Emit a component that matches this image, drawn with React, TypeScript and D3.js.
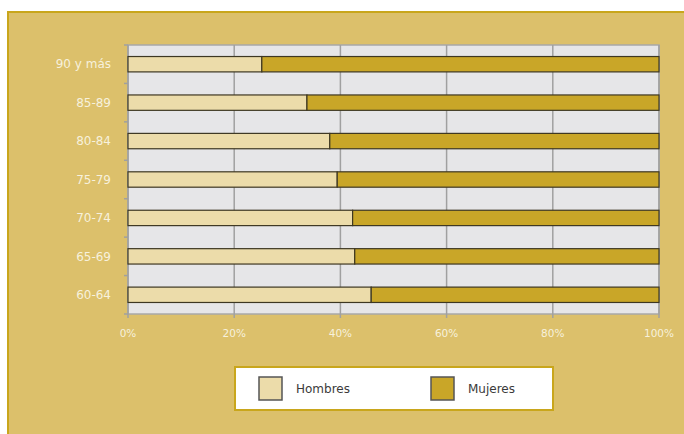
import React from "react";
import * as d3 from "d3";

const categories = ["90 y más", "85-89", "80-84", "75-79", "70-74", "65-69", "60-64"];
const hombres = [25.2, 33.7, 38.0, 39.4, 42.3, 42.7, 45.8];
const mujeres = hombres.map((h) => 100 - h);
const xTicks = [0, 20, 40, 60, 80, 100];
const seriesNames = ["Hombres", "Mujeres"];
const seriesColors = ["#ecdcaa", "#c9a628"];

export default function App() {
  const W = 684, H = 434;
  const plot = { left: 128, top: 45, right: 659, bottom: 314 };
  const x = d3.scaleLinear().domain([0, 100]).range([plot.left, plot.right]);
  const y = d3.scaleBand().domain(categories).range([plot.top, plot.bottom]).paddingInner(0.6).paddingOuter(0.3);
  const yb = d3.scaleBand().domain(categories).range([plot.top, plot.bottom]);
  const font = "'DejaVu Sans', Verdana, sans-serif";
  const stackData = categories.map((c, i) => ({ cat: c, Hombres: hombres[i], Mujeres: mujeres[i] }));
  const stack = d3.stack<any>().keys(seriesNames)(stackData);
  return (
    <svg width={W} height={H} style={{ position: "absolute", left: 0, top: 0 }}>
      <rect x={0} y={0} width={W} height={H} fill="#ffffff" />
      <rect x={7} y={11} width={W - 7} height={H - 11} fill="#dcc06b" />
      <rect x={7} y={11} width={W - 7} height={2} fill="#c9a61c" />
      <rect x={7} y={11} width={2} height={H - 11} fill="#c9a61c" />
      <rect x={plot.left} y={plot.top} width={plot.right - plot.left} height={plot.bottom - plot.top} fill="#e6e6e8" stroke="#a8a8a8" strokeWidth={1.5} />
      {xTicks.map((t) => (
        <g key={t}>
          <line x1={x(t)} x2={x(t)} y1={plot.top} y2={plot.bottom + 4} stroke="#a0a0a0" strokeWidth={1.5} />
          <text x={x(t)} y={plot.bottom + 23} textAnchor="middle" fontFamily={font} fontSize={10.5} fill="#f7f1dc">{t}%</text>
        </g>
      ))}
      {categories.map((c, i) => (
        <line key={"tk" + i} x1={plot.left - 4} x2={plot.left} y1={yb(c)!} y2={yb(c)!} stroke="#a0a0a0" strokeWidth={1.5} />
      ))}
      <line x1={plot.left - 4} x2={plot.left} y1={plot.bottom} y2={plot.bottom} stroke="#a0a0a0" strokeWidth={1.5} />
      {stack.map((s, si) => (
        <g key={s.key}>
          {s.map((d: any, i: number) => (
            <rect key={i} x={x(d[0])} y={y(categories[i])!} width={x(d[1]) - x(d[0])} height={y.bandwidth()} fill={seriesColors[si]} stroke="#3d3722" strokeWidth={1.2} />
          ))}
        </g>
      ))}
      {categories.map((c) => (
        <text key={c} x={111} y={yb(c)! + yb.bandwidth() / 2} dy="0.35em" textAnchor="end" fontFamily={font} fontSize={12} fill="#f7f1dc">{c}</text>
      ))}
      <rect x={235} y={367} width={318} height={43} fill="#ffffff" stroke="#c9a61c" strokeWidth={2} />
      {seriesNames.map((n, i) => {
        const sx = i === 0 ? 259 : 431;
        return (
          <g key={n}>
            <rect x={sx} y={377} width={23} height={23} fill={seriesColors[i]} stroke="#555" strokeWidth={1.5} />
            <text x={sx + 37} y={389} dy="0.35em" fontFamily={font} fontSize={12} fill="#3a3a3a">{n}</text>
          </g>
        );
      })}
    </svg>
  );
}
